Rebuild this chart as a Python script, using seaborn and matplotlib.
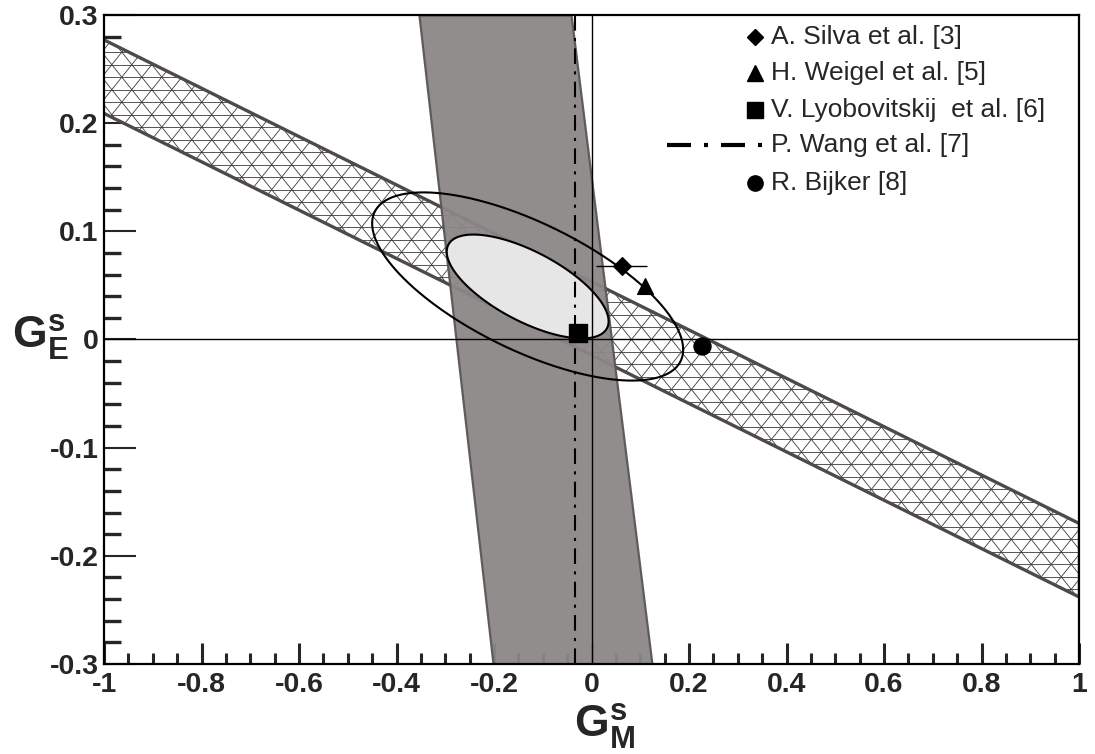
import numpy as np
import matplotlib
matplotlib.use('Agg')
import matplotlib.pyplot as plt
from matplotlib.ticker import MultipleLocator, FuncFormatter
from matplotlib.collections import LineCollection
import seaborn as sns

# hatched band (forward-angle constraint)
band_x = [-1.0, 1.0]
band_top = [0.277, -0.170]
band_bottom = [0.209, -0.238]

# grey band (backward-angle constraint)
grey_y = [-0.3, 0.3]
grey_left = [-0.202, -0.354]
grey_right = [0.124, -0.042]

# combined fit ellipses: centre, half widths in x/y, correlation
ell_centre = (-0.131, 0.049)
ell_inner = (0.166, 0.048)
ell_outer = (0.319, 0.087)
ell_rho = -0.67

# theory predictions
silva_x, silva_y, silva_err = 0.062, 0.068, 0.052
weigel_x, weigel_y = 0.110, 0.049
lyub_x, lyub_y = -0.027, 0.006
wang_x = -0.033
bijker_x, bijker_y = 0.226, -0.006

legend_labels = ['A. Silva et al. [3]', 'H. Weigel et al. [5]', 'V. Lyobovitskij  et al. [6]',
                 'P. Wang et al. [7]', 'R. Bijker [8]']

sns.set_theme(style='white')
plt.rcParams['font.family'] = ['Liberation Sans', 'DejaVu Sans']
plt.rcParams['mathtext.fontset'] = 'custom'
plt.rcParams['mathtext.bf'] = 'Liberation Sans:bold'
plt.rcParams['mathtext.rm'] = 'Liberation Sans'


def ellipse(half, n=400):
    t = np.linspace(0, 2 * np.pi, n)
    x = ell_centre[0] + half[0] * np.cos(t)
    y = ell_centre[1] + half[1] * (ell_rho * np.cos(t) + np.sqrt(1 - ell_rho ** 2) * np.sin(t))
    return x, y


fig = plt.figure(figsize=(10.95, 7.54), dpi=100)
ax = fig.add_axes([0.095, 0.1194, 0.8904, 0.8607])
ax.set_xlim(-1, 1)
ax.set_ylim(-0.3, 0.3)

# hatched band: white fill, then a diamond + horizontal line mesh clipped to it
band = ax.fill_between(band_x, band_bottom, band_top, facecolor='white', linewidth=0, zorder=1)
slope, step = 0.5634, 0.0231
segs = []
for c in np.arange(-40, 41) * step:
    segs.append([(-1.0, c - slope), (1.0, c + slope)])
    segs.append([(-1.0, c + slope), (1.0, c - slope)])
for h in np.arange(-30, 31) * step / 2:
    segs.append([(-1.0, h), (1.0, h)])
mesh = LineCollection(segs, colors='#3a3a3a', linewidths=0.6, zorder=1.2)
ax.add_collection(mesh)
mesh.set_clip_path(band.get_paths()[0], ax.transData)
ax.plot(band_x, band_top, color='#504a47', lw=2.4, zorder=1.5)
ax.plot(band_x, band_bottom, color='#504a47', lw=2.4, zorder=1.5)
ax.plot([band_x[1], band_x[1]], [band_bottom[1], band_top[1]], color='#504a47', lw=2.4, zorder=1.5)

# grey band
ax.fill_betweenx(grey_y, grey_left, grey_right, facecolor='#8b8786', edgecolor='#5a5655',
                 linewidth=1.6, alpha=0.95, zorder=2)

# ellipses
xi, yi = ellipse(ell_inner)
ax.fill(xi, yi, facecolor='#e6e6e6', edgecolor='black', lw=1.5, zorder=3)
xo, yo = ellipse(ell_outer)
ax.plot(xo, yo, color='black', lw=1.5, zorder=4)

# zero lines
ax.axvline(0, color='black', lw=1.0, zorder=4)
ax.axhline(0, color='black', lw=1.0, zorder=4)

# Wang vertical line
ax.axvline(wang_x, color='black', lw=1.5, dashes=(7.5, 3.5, 1.5, 3.5), zorder=5)

# points
ax.errorbar([silva_x], [silva_y], xerr=[silva_err], fmt='none', ecolor='black', elinewidth=1.0, zorder=5)
sns.scatterplot(x=[silva_x], y=[silva_y], marker='D', s=85, color='black', edgecolor='black', ax=ax, zorder=6)
sns.scatterplot(x=[weigel_x], y=[weigel_y], marker='^', s=130, color='black', edgecolor='black', ax=ax, zorder=6)
sns.scatterplot(x=[lyub_x], y=[lyub_y], marker='s', s=150, color='black', edgecolor='black', ax=ax, zorder=6)
sns.scatterplot(x=[bijker_x], y=[bijker_y], marker='o', s=150, color='black', edgecolor='black', ax=ax, zorder=6)

ax.set_xlim(-1, 1)
ax.set_ylim(-0.3, 0.3)

# manual legend in axes coordinates
leg_y = [0.966, 0.911, 0.854, 0.800, 0.741]
leg_mk = ['D', '^', 's', None, 'o']
leg_ms = [8, 11, 11, None, 11]
for yy, mk, ms, lab in zip(leg_y, leg_mk, leg_ms, legend_labels):
    if mk is None:
        ax.plot([0.577, 0.675], [yy, yy], color='black', lw=3.0, dashes=(5.76, 3.12, 0.96, 3.12),
                transform=ax.transAxes, clip_on=False, zorder=7)
    else:
        ax.plot([0.668], [yy], marker=mk, ms=ms, color='black', linestyle='none',
                transform=ax.transAxes, clip_on=False, zorder=7)
    ax.text(0.684, yy, lab, transform=ax.transAxes, fontsize=19, va='center', ha='left', zorder=7)

# ticks
ax.xaxis.set_major_locator(MultipleLocator(0.2))
ax.xaxis.set_minor_locator(MultipleLocator(0.05))
ax.yaxis.set_major_locator(MultipleLocator(0.1))
ax.yaxis.set_minor_locator(MultipleLocator(0.02))
fmt = FuncFormatter(lambda v, p: '%g' % (round(v, 3) + 0.0))
ax.xaxis.set_major_formatter(fmt)
ax.yaxis.set_major_formatter(fmt)
ax.tick_params(axis='x', which='major', direction='in', length=15, width=2.2, bottom=True, top=False, pad=6)
ax.tick_params(axis='x', which='minor', direction='in', length=8, width=2.2, bottom=True, top=False)
ax.tick_params(axis='y', which='major', direction='in', length=23, width=1.5, left=True, right=False, pad=4)
ax.tick_params(axis='y', which='minor', direction='in', length=12, width=2.4, left=True, right=False)
for lab in ax.get_xticklabels() + ax.get_yticklabels():
    lab.set_fontsize(20.5)
    lab.set_fontweight('bold')
for sp in ax.spines.values():
    sp.set_color('black')
    sp.set_linewidth(1.6)

fig.text(0.0365, 0.553, r'$\mathbf{G}^{\mathbf{s}}_{\mathbf{E}}$', fontsize=32, ha='center', va='center')
fig.text(0.552, 0.037, r'$\mathbf{G}^{\mathbf{s}}_{\mathbf{M}}$', fontsize=32, ha='center', va='center')

fig.savefig('out.png', dpi=100)
